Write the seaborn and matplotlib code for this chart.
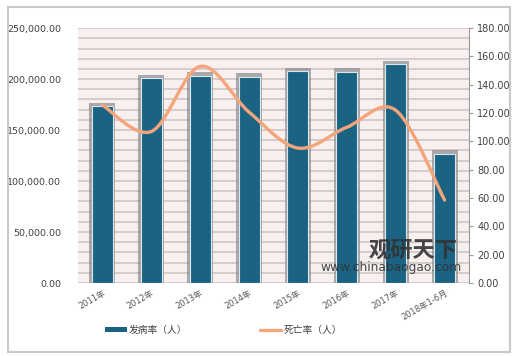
import numpy as np
import pandas as pd
import matplotlib
matplotlib.use("Agg")
import matplotlib.pyplot as plt
import seaborn as sns
from matplotlib.path import Path
from matplotlib.patches import PathPatch, Rectangle, Patch
from matplotlib.lines import Line2D
from matplotlib.ticker import FuncFormatter, MultipleLocator

# data
years = ["2011年", "2012年", "2013年", "2014年", "2015年", "2016年", "2017年", "2018年1-6月"]
cases = [173500, 201000, 203000, 202000, 207800, 206900, 214700, 126500]
deaths = [125.6, 107.0, 153.0, 120.7, 95.3, 110.0, 122.0, 58.6]

bar_color = "#1b6383"
line_color = "#f4a57c"

sns.set_theme(style="white")
plt.rcParams["font.family"] = ["DejaVu Sans", "Noto Sans CJK SC"]

df = pd.DataFrame({"year": years, "cases": cases, "deaths": deaths})

fig = plt.figure(figsize=(5.2, 3.56), dpi=100)
ax = fig.add_axes([0.15, 0.205, 0.752, 0.716])
ax.set_facecolor("#f8efef")

sns.barplot(data=df, x="year", y="cases", color=bar_color, width=0.43,
            edgecolor="#d8e6ee", linewidth=0.8, saturation=1, ax=ax, zorder=3)

# gray shadow behind each bar
for p in ax.containers[0]:
    x, w, h = p.get_x(), p.get_width(), p.get_height()
    ax.add_patch(Rectangle((x - 0.05, 0), w + 0.1, h + 3500,
                           facecolor="#8a8a8a", alpha=0.7, edgecolor="none", zorder=2))

ax.set_xlim(-0.5, len(years) - 0.5)
ax.set_ylim(0, 250000)
ax.yaxis.set_major_locator(MultipleLocator(50000))
ax.yaxis.set_minor_locator(MultipleLocator(10000))
ax.yaxis.set_major_formatter(FuncFormatter(lambda v, _: f"{v:,.2f}"))
ax.grid(axis="y", which="both", color="#d2caca", linewidth=1.3, zorder=0)
ax.set_axisbelow(True)
ax.set_xlabel("")
ax.set_ylabel("")
for s in ax.spines.values():
    s.set_visible(False)
ax.tick_params(axis="y", which="both", length=0, labelsize=6.8, labelcolor="#404040", pad=12)
ax.tick_params(axis="x", length=0, labelsize=6, labelcolor="#595959", pad=4)
for lab in ax.get_xticklabels():
    lab.set_rotation(30)
    lab.set_ha("right")
    lab.set_rotation_mode("anchor")

# smoothed death line on the right axis
ax2 = ax.twinx()
ax2.set_ylim(0, 180)
ax2.yaxis.set_major_locator(MultipleLocator(20))
ax2.yaxis.set_major_formatter(FuncFormatter(lambda v, _: f"{v:.2f}"))
ax2.grid(False)
for s in ["top", "left", "bottom"]:
    ax2.spines[s].set_visible(False)
ax2.spines["right"].set_color("#9a9a9a")
ax2.spines["right"].set_linewidth(0.8)
ax2.tick_params(axis="y", direction="out", length=3, width=0.8, color="#9a9a9a",
                labelsize=7, labelcolor="#404040", right=True, pad=3)

pts = np.column_stack([np.arange(len(deaths)), deaths]).astype(float)
verts = [pts[0]]
codes = [Path.MOVETO]
n = len(pts)
for i in range(n - 1):
    p0 = pts[max(i - 1, 0)]
    p1 = pts[i]
    p2 = pts[i + 1]
    p3 = pts[min(i + 2, n - 1)]
    verts += [p1 + (p2 - p0) / 6, p2 - (p3 - p1) / 6, p2]
    codes += [Path.CURVE4] * 3
ax2.add_patch(PathPatch(Path(verts, codes), facecolor="none", edgecolor=line_color,
                        linewidth=2.4, capstyle="round", zorder=5))

# watermark
fig.text(0.795, 0.298, "观研天下", fontsize=16, fontweight="bold", color="#333333",
         family=["Noto Sans CJK SC"], ha="center", va="center", alpha=0.9)
fig.text(0.752, 0.25, "www.chinabaogao.com", fontsize=8.8, color="#333333",
         ha="center", va="center", alpha=0.9)

# legend
handles = [Patch(facecolor=bar_color, edgecolor="none"),
           Line2D([0], [0], color=line_color, linewidth=2.4)]
fig.legend(handles, ["发病率（人）", "死亡率（人）"], loc="center",
           bbox_to_anchor=(0.43, 0.073), ncol=2, frameon=False, fontsize=7,
           handlelength=2.2, handleheight=0.35, handletextpad=0.2, columnspacing=7.5,
           labelcolor="#404040")

# outer frame
fig.patches.append(Rectangle((0.016, 0.012), 0.965, 0.968, transform=fig.transFigure,
                             facecolor="none", edgecolor="#c9c9c9", linewidth=1.5))

fig.savefig("out.png", dpi=100)
